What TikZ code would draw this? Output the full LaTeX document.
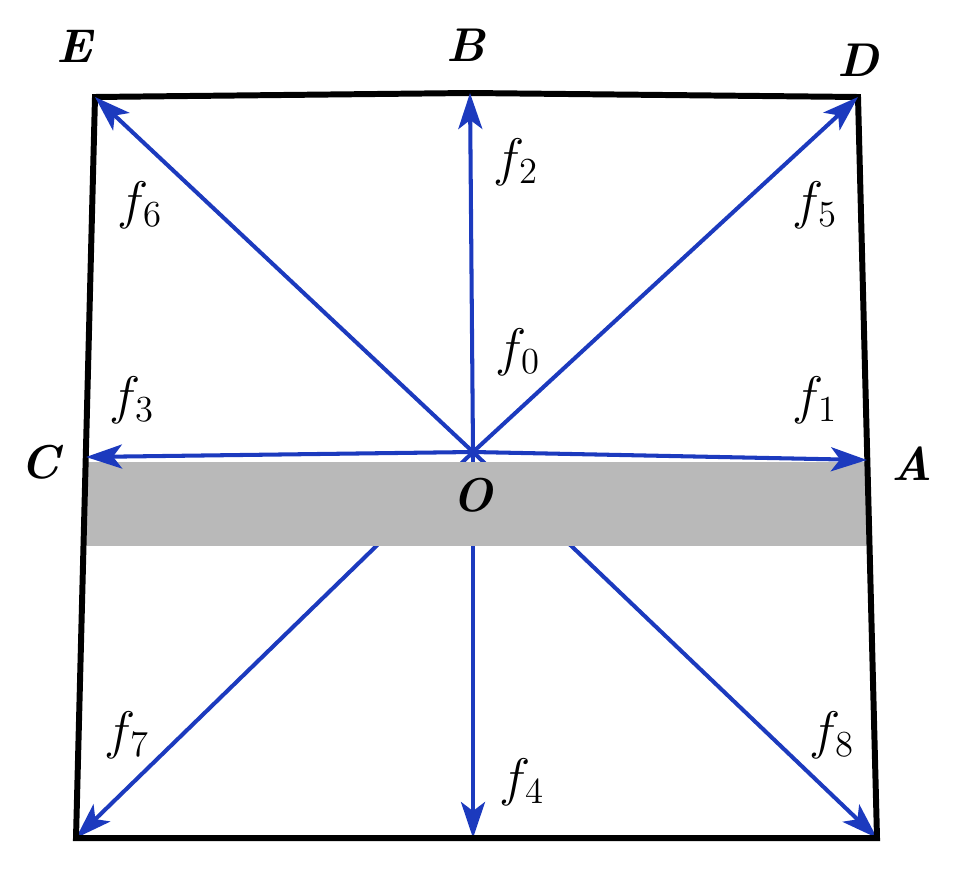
\documentclass[tikz,border=0pt]{standalone}
\usepackage{graphicx}
\usepackage{tikz}
\usetikzlibrary{arrows.meta}
\definecolor{vecblue}{RGB}{28,58,190}
\newcommand{\flab}[1]{\scalebox{1.45}{$f_{#1}$}}
\newcommand{\plab}[1]{\scalebox{1.3}{\textbf{\textit{#1}}}}

\begin{document}
\begin{tikzpicture}[
    x=0.02cm, y=-0.02cm,
    P/.style = {font=\huge},
    L/.style = {font=\huge},
    vec/.style = {draw=vecblue, line width=2.3pt, -{Stealth[length=0.72cm, width=0.48cm, inset=0.18cm]}}
    ]
    \useasboundingbox (0,0) rectangle (962,882);
    % corners and points
    \coordinate (O) at (473,452);
    \coordinate (E) at (95,97);
    \coordinate (D) at (858,97);
    \coordinate (B) at (470,93);
    \coordinate (C) at (86,457);
    \coordinate (A) at (867,460);
    \coordinate (F) at (76,838);
    \coordinate (G) at (877,838);
    \coordinate (H) at (473,838);
    % lower vectors, partly hidden by the band
    \begin{scope}[every path/.style=vec]
        \draw (O) -- (F);
        \draw (O) -- (H);
        \draw (O) -- (G);
    \end{scope}
    \fill[gray!55] (86,462) rectangle (867,546) coordinate (band);
    % frame
    \draw[line width=3.4pt, line join=miter] (E) -- (B) -- (D) -- (G) -- (F) -- cycle;
    \begin{scope}[every path/.style=vec]
        \draw (O) -- (E);
        \draw (O) -- (B);
        \draw (O) -- (D);
        \draw (O) -- (C);
        \draw (O) -- (A);
    \end{scope}
    % letters
    \node[P] (lE) at (76,46) {\plab{E}};
    \node[P] (lB) at (466,45) {\plab{B}};
    \node[P] (lD) at (858,60) {\plab{D}};
    \node[P] (lC) at (42,462) {\plab{C}};
    \node[P] (lA) at (912,464) {\plab{A}};
    \node[P] (lO) at (473,495) {\plab{O}};
    % forces
    \node[L] (f0) at (518,352) {\flab{0}};
    \node[L] (f1) at (815,400) {\flab{1}};
    \node[L] (f2) at (516,162) {\flab{2}};
    \node[L] (f3) at (132,400) {\flab{3}};
    \node[L] (f4) at (522,782) {\flab{4}};
    \node[L] (f5) at (815,205) {\flab{5}};
    \node[L] (f6) at (140,205) {\flab{6}};
    \node[L] (f7) at (127,735) {\flab{7}};
    \node[L] (f8) at (832,735) {\flab{8}};
\end{tikzpicture}
\end{document}
